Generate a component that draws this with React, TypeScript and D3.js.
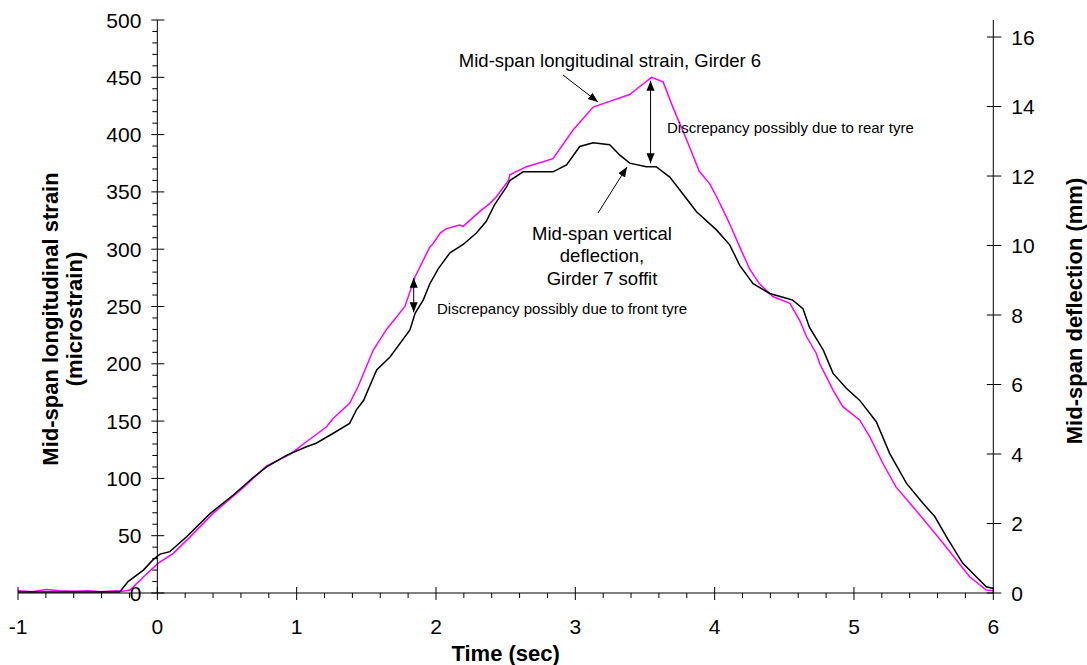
import React from 'react';
import * as d3 from 'd3';

// Mid-span longitudinal strain, Girder 6 (microstrain)
const strainTime = [-1.0, -0.9, -0.8, -0.7, -0.6, -0.5, -0.4, -0.3, -0.25, -0.196, -0.1, 0.007, 0.115, 0.235, 0.4, 0.617, 0.785, 0.952, 1.07, 1.215, 1.26, 1.38, 1.44, 1.55, 1.645, 1.777, 1.85, 1.956, 1.98, 2.03, 2.076, 2.17, 2.195, 2.315, 2.387, 2.435, 2.52, 2.53, 2.65, 2.84, 2.984, 3.128, 3.247, 3.39, 3.463, 3.547, 3.63, 3.7, 3.8, 3.89, 3.965, 4.013, 4.085, 4.108, 4.18, 4.25, 4.32, 4.42, 4.515, 4.54, 4.61, 4.66, 4.73, 4.754, 4.85, 4.92, 5.04, 5.113, 5.208, 5.3, 5.423, 5.543, 5.64, 5.735, 5.83, 5.95, 6.0];
const strainValues = [2, 1, 3, 2, 1.5, 2, 1, 2, 1.5, 2.6, 14, 26, 34.6, 49, 69.5, 92, 111, 121, 132, 145, 152, 165.5, 180, 212, 230, 250, 276, 302, 305, 314, 318, 321, 320, 333, 340, 346, 360, 365, 372, 379, 404, 424, 429, 435, 442, 450, 446, 424, 395, 368, 357, 346, 328, 322, 302, 283, 270, 258.5, 254, 252.8, 238, 223.6, 209, 200, 177, 162.6, 151, 136.4, 113, 92.8, 75.3, 57.9, 43.4, 28.8, 14.2, 2.6, 2];

// Mid-span vertical deflection, Girder 7 soffit (mm)
const deflTime = [-1.0, -0.6, -0.3, -0.27, -0.21, -0.1, -0.03, 0.02, 0.09, 0.21, 0.38, 0.545, 0.69, 0.785, 0.93, 1.07, 1.14, 1.26, 1.38, 1.43, 1.48, 1.574, 1.67, 1.813, 1.85, 1.908, 1.956, 2.016, 2.1, 2.195, 2.29, 2.36, 2.42, 2.506, 2.53, 2.625, 2.84, 2.937, 3.032, 3.128, 3.247, 3.32, 3.39, 3.51, 3.58, 3.678, 3.75, 3.87, 4.013, 4.108, 4.18, 4.276, 4.395, 4.515, 4.56, 4.634, 4.68, 4.78, 4.85, 4.945, 5.04, 5.16, 5.256, 5.376, 5.495, 5.58, 5.663, 5.78, 5.89, 5.95, 6.0];
const deflValues = [0.03, 0.03, 0.03, 0.03, 0.33, 0.66, 0.96, 1.12, 1.19, 1.62, 2.29, 2.82, 3.33, 3.63, 3.97, 4.21, 4.31, 4.59, 4.88, 5.28, 5.54, 6.42, 6.79, 7.57, 8.05, 8.43, 8.9, 9.33, 9.79, 10.03, 10.36, 10.69, 11.17, 11.69, 11.87, 12.12, 12.12, 12.32, 12.85, 12.96, 12.9, 12.6, 12.37, 12.27, 12.27, 11.97, 11.6, 10.97, 10.45, 10.02, 9.43, 8.9, 8.62, 8.48, 8.43, 8.18, 7.65, 6.99, 6.32, 5.89, 5.55, 4.93, 4.02, 3.16, 2.58, 2.2, 1.62, 0.86, 0.42, 0.18, 0.13];

const timeTicks = [-1, 0, 1, 2, 3, 4, 5, 6];
const strainTicks = [0, 50, 100, 150, 200, 250, 300, 350, 400, 450, 500];
const deflTicks = [0, 2, 4, 6, 8, 10, 12, 14, 16];

const W = 1087;
const H = 665;
const FONT = '"Liberation Sans", Arial, sans-serif';

export default function App() {
  const x = d3.scaleLinear().domain([-1, 6]).range([18, 993.3]);
  const yL = d3.scaleLinear().domain([0, 500]).range([593, 20]);
  const yR = d3.scaleLinear().domain([0, 16.49]).range([593, 20]);

  const strainLine = d3.line<number>()
    .x((d, i) => x(strainTime[i]))
    .y(d => yL(d));
  const deflLine = d3.line<number>()
    .x((d, i) => x(deflTime[i]))
    .y(d => yR(d));

  const x0 = x(0);
  const xEnd = x(6);
  const yBase = yL(0);

  const minorTime = d3.range(-1, 6.001, 0.2).filter(t => Math.abs(t - Math.round(t)) > 0.01);
  const minorStrain = d3.range(0, 501, 10).filter(v => v % 50 !== 0);

  return (
    <svg width={W} height={H} style={{ position: 'absolute', left: 0, top: 0, background: '#fff' }} fontFamily={FONT}>
      <defs>
        <marker id="ah" viewBox="0 0 10 10" refX="10" refY="5" markerWidth="10" markerHeight="10" markerUnits="userSpaceOnUse" orient="auto-start-reverse">
          <path d="M0,1 L10,5 L0,9 z" fill="#000" />
        </marker>
      </defs>

      {/* data lines */}
      <path d={strainLine(strainValues) || ''} fill="none" stroke="#ff00ff" strokeWidth={1.5} />
      <path d={deflLine(deflValues) || ''} fill="none" stroke="#000" strokeWidth={1.5} />

      {/* x axis */}
      <line x1={x(-1)} x2={xEnd} y1={yBase} y2={yBase} stroke="#000" />
      {timeTicks.map(t => (
        <g key={'xt' + t}>
          <line x1={x(t)} x2={x(t)} y1={yBase - 6} y2={yBase + 7} stroke="#000" />
          <text x={x(t)} y={yBase + 41} fontSize={21} textAnchor="middle">{t}</text>
        </g>
      ))}
      {minorTime.map(t => (
        <line key={'xm' + t} x1={x(t)} x2={x(t)} y1={yBase} y2={yBase + 5} stroke="#000" />
      ))}
      <text x={(x(-1) + xEnd) / 2} y={661} fontSize={22} fontWeight="bold" textAnchor="middle">Time (sec)</text>

      {/* left axis */}
      <line x1={x0} x2={x0} y1={yL(500)} y2={yBase} stroke="#000" />
      {strainTicks.map(v => (
        <g key={'yl' + v}>
          <line x1={x0 - 6} x2={x0 + 7} y1={yL(v)} y2={yL(v)} stroke="#000" />
          <text x={x0 - 16} y={yL(v) + 7.5} fontSize={21} textAnchor="end">{v}</text>
        </g>
      ))}
      {minorStrain.map(v => (
        <line key={'ym' + v} x1={x0 - 5} x2={x0} y1={yL(v)} y2={yL(v)} stroke="#000" />
      ))}
      <text transform="translate(58,319) rotate(-90)" fontSize={22} fontWeight="bold" textAnchor="middle">Mid-span longitudinal strain</text>
      <text transform="translate(82,319) rotate(-90)" fontSize={22} fontWeight="bold" textAnchor="middle">(microstrain)</text>

      {/* right axis */}
      <line x1={xEnd} x2={xEnd} y1={yR(16.49)} y2={yBase} stroke="#000" />
      {deflTicks.map(v => (
        <g key={'yr' + v}>
          <line x1={xEnd - 6.5} x2={xEnd + 8} y1={yR(v)} y2={yR(v)} stroke="#000" />
          <text x={xEnd + 18} y={yR(v) + 7.5} fontSize={21} textAnchor="start">{v}</text>
        </g>
      ))}
      <text transform="translate(1082,311) rotate(-90)" fontSize={22} fontWeight="bold" textAnchor="middle">Mid-span deflection (mm)</text>

      {/* annotations */}
      <text x={610} y={66.5} fontSize={18.5} textAnchor="middle">Mid-span longitudinal strain, Girder 6</text>
      <line x1={563} y1={75} x2={598} y2={102} stroke="#000" markerEnd="url(#ah)" />

      <line x1={x(3.54)} x2={x(3.54)} y1={yL(447)} y2={yL(375)} stroke="#000" markerStart="url(#ah)" markerEnd="url(#ah)" />
      <text x={667} y={133} fontSize={15}>Discrepancy possibly due to rear tyre</text>

      <text x={602} y={239.5} fontSize={18.5} textAnchor="middle">Mid-span vertical</text>
      <text x={602} y={262} fontSize={18.5} textAnchor="middle">deflection,</text>
      <text x={602} y={284.5} fontSize={18.5} textAnchor="middle">Girder 7 soffit</text>
      <line x1={598} y1={213} x2={627} y2={167} stroke="#000" markerEnd="url(#ah)" />

      <line x1={x(1.84)} x2={x(1.84)} y1={yL(275)} y2={yL(245)} stroke="#000" markerStart="url(#ah)" markerEnd="url(#ah)" />
      <text x={437} y={313.5} fontSize={15}>Discrepancy possibly due to front tyre</text>
    </svg>
  );
}
